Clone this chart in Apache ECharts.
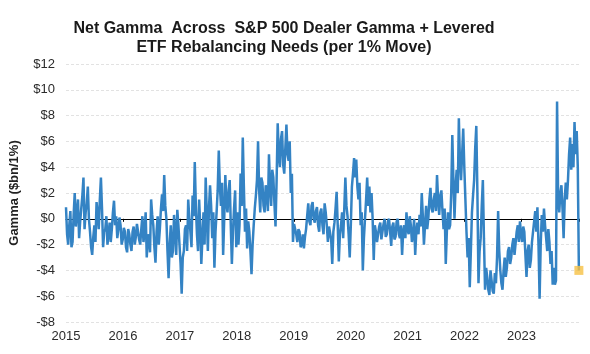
<!DOCTYPE html>
<html>
<head>
<meta charset="utf-8">
<title>Net Gamma Across S&P 500</title>
<script src="https://cdn.jsdelivr.net/npm/echarts@6/dist/echarts.min.js"></script>
<style>html,body{margin:0;padding:0;background:#fff;}</style>
</head>
<body>
<div id="main" style="width:590px;height:354px;"></div>
<script>
// x轴年份
var years = [2015, 2016, 2017, 2018, 2019, 2020, 2021, 2022, 2023];
// weekly readings starting Jan 2015
var startYear = 2015;
var stepYears = 7 / 365.25;
// Net gamma, $bn per 1% move
var gamma = [
    0.9, -1.2, -2.0, -0.5, 0.6, -2.2, -1.8, 0.3, 2.0, -0.6, 0.5, 1.5, -1.5, -0.2, 0.8, 1.8, 3.2, -0.8, 0.5, 1.2,
    2.5, 0.0, -1.0, -2.2, -2.8, -1.4, -0.5, -1.8, 1.3, 0.4, -0.8, 1.5, 3.2, 0.8, -2.2, -1.0, -0.8, 0.2, -2.0, -1.2,
    -0.3, -1.8, -0.8, 0.5, 1.4, -0.5, 0.2, -1.5, -0.8, 0.1, -0.5, -2.0, -1.6, -0.7, -1.0, -2.2, -2.6, -0.8, -1.2, -2.0,
    -2.5, -1.0, -0.6, -2.0, -1.4, -0.4, -0.3, -1.6, -2.0, -0.8, 0.2, -1.8, -1.0, 0.5, -3.0, -1.2, -1.5, -2.6, 1.5, 0.3,
    -0.5, -2.2, -3.4, -1.0, 0.2, -2.0, -0.8, 0.8, 1.9, 0.6, 3.4, 1.0, 0.0, -2.5, -4.6, -2.0, -0.5, -3.0, -2.5, 0.3,
    -1.0, -2.8, 0.7, -0.5, -2.0, -3.5, -5.8, -3.0, -2.5, -0.8, -0.5, -2.5, 1.5, 0.0, -1.0, -2.2, 1.8, 0.2, 4.4, 1.0,
    -1.2, -2.5, 1.5, -0.5, -3.5, -1.5, 0.5, -2.0, 3.2, 0.5, -2.5, 0.8, 2.6, 1.0, -1.5, 0.5, -3.8, -1.0, 0.5, 2.2,
    5.3, 2.5, 1.0, 2.8, -2.8, 0.0, 3.4, 1.2, 0.5, 2.2, 3.0, -0.5, -3.5, -1.0, 0.8, 2.2, -2.2, 0.5, -2.0, -0.5,
    3.5, 1.0, 6.3, 2.5, -1.0, 0.8, -2.3, -0.2, -1.0, -2.5, -4.3, -2.0, -0.5, 0.8, 1.8, 3.0, 6.0, 2.2, 0.5, 3.2,
    2.8, 1.0, 0.5, 2.6, 2.0, 0.6, 5.0, 2.5, 1.0, 3.8, 3.2, 1.2, -0.6, 3.0, 7.4, 5.0, 4.0, 6.2, 6.8, 4.2,
    3.5, 5.5, 7.3, 5.0, 4.5, 6.0, 2.0, 3.5, -1.8, -0.4, -0.5, -1.2, -1.8, -0.8, -1.0, -2.2, -2.0, -1.2, -2.3, -1.4,
    -0.8, 0.2, 1.2, -0.2, -0.5, 1.0, 1.3, 0.0, -0.3, 0.6, 0.9, -0.5, -1.0, 0.5, 0.8, -0.5, -1.2, 1.2, 0.5, -0.5,
    -1.8, -0.6, -0.5, -1.6, -3.5, -1.0, -0.3, 0.8, 2.1, -0.5, -3.3, -1.2, -0.5, 0.5, -1.5, 0.8, 3.2, 1.0, 0.2, -1.2,
    -3.0, -0.5, 2.5, 3.5, 4.7, 3.2, 4.6, 2.5, 1.5, 2.8, -0.5, 0.5, -4.0, -1.5, 0.0, 1.5, 3.2, 1.0, 2.5, 0.5,
    2.0, 0.0, -3.2, -0.5, -1.0, -1.8, -1.8, -0.6, -0.3, -1.6, -1.5, -0.4, 0.0, -1.4, -1.2, -0.2, 0.0, -1.0, -2.1, -0.6,
    -0.3, -1.6, -1.4, -0.2, 0.0, -1.2, -1.5, -0.5, -2.8, -1.0, -0.5, -1.5, 0.5, -0.8, -1.2, 0.2, -0.5, -1.8, -1.2, 0.0,
    -2.8, -1.0, -0.3, -1.2, 0.3, -0.6, 2.0, 0.2, -2.0, -0.5, 1.0, -0.8, 0.0, 1.5, 2.4, 0.8, 0.5, 1.5, 2.0, 0.6,
    3.4, 1.5, 0.3, 1.8, 2.2, 0.6, -0.8, 0.8, -3.5, -1.0, 0.5, -0.8, -0.5, 2.0, 6.5, 3.0, 0.0, 2.5, 3.8, 2.0,
    7.8, 4.5, 3.0, 5.0, 7.0, 4.0, 1.5, -1.0, -3.0, -1.5, -5.3, -2.5, 0.5, 1.8, 3.0, 5.5, 7.2, 2.0, -5.0, -2.5,
    -1.5, 1.0, 3.0, -1.5, -5.5, -3.8, -4.5, -5.5, -5.9, -4.0, -4.8, -5.6, -5.8, -4.2, -5.0, -3.0, 0.6, -2.5, -4.0, -5.0,
    -5.5, -4.0, -3.0, -4.5, -3.8, -2.5, -2.2, -3.5, -3.0, -2.0, -1.5, -2.8, -1.9, -1.0, -0.5, -1.8, -0.2, -1.2, -1.8, -0.6,
    -1.0, -2.8, -4.5, -2.5, -2.0, -3.8, -3.2, -1.8, -1.0, -0.2, 0.6, -1.0, 0.9, -2.0, -6.2, -2.0, 0.3, -1.0, 0.8, -0.5,
    -1.5, -2.5, -0.8, -1.8, -3.5, -2.5, -5.1, -3.8, -5.1, -4.8, 9.1, 1.5, 0.5, 2.0, 2.6, 0.8, -1.5, 1.5, 2.8, 1.5,
    3.0, 5.0, 6.3, 3.8, 5.8, 4.0, 7.5, 5.0, 6.8, 4.0, -4.0
];
// y轴范围
var yMin = -8, yMax = 12, yStep = 2;

var lineData = [];
for (var i = 0; i < gamma.length; i++) {
    lineData.push([startYear + i * stepYears, gamma[i]]);
}
// 最新值 (黄色方块)
var latest = lineData[lineData.length - 1];
var xMax = latest[0] + 0.002;

var chart = echarts.init(document.getElementById('main'));

function money(v) {
    return v < 0 ? '-$' + (-v) : '$' + v;
}

var option = {
    backgroundColor: '#fff',
    animation: false,
    title: {
        text: 'Net Gamma  Across  S&P 500 Dealer Gamma + Levered\nETF Rebalancing Needs (per 1% Move)',
        left: 279,
        top: 14,
        textAlign: 'center',
        textStyle: {
            color: '#1a1a1a',
            fontSize: 16,
            fontWeight: 'bold',
            fontFamily: 'Liberation Sans, Arial, sans-serif',
            lineHeight: 19
        }
    },
    grid: {
        left: 61,
        right: 11,
        top: 64,
        bottom: 32
    },
    xAxis: [
        {
            type: 'value',
            min: startYear,
            max: xMax,
            interval: 1,
            axisLine: { show: false, onZero: false },
            axisTick: { show: false },
            splitLine: { show: false },
            axisLabel: {
                margin: 8,
                color: '#2b2b2b',
                fontSize: 13,
                fontFamily: 'Liberation Sans, Arial, sans-serif',
                formatter: function (v) {
                    return years.indexOf(Math.round(v)) >= 0 ? String(Math.round(v)) : '';
                }
            }
        },
        {
            // 零线
            type: 'value',
            min: startYear,
            max: xMax,
            interval: 1,
            position: 'bottom',
            axisLine: { show: true, onZero: true, lineStyle: { color: '#000', width: 1.2 } },
            axisTick: { show: true, length: 3, lineStyle: { color: '#000' } },
            axisLabel: { show: false },
            splitLine: { show: false }
        }
    ],
    yAxis: {
        type: 'value',
        min: yMin,
        max: yMax,
        interval: yStep,
        name: 'Gamma ($bn/1%)',
        nameLocation: 'middle',
        nameRotate: 90,
        nameGap: 45,
        nameTextStyle: {
            color: '#222',
            fontSize: 13,
            fontWeight: 'bold',
            fontFamily: 'Liberation Sans, Arial, sans-serif'
        },
        axisLine: { show: false },
        axisTick: { show: false },
        axisLabel: {
            margin: 11,
            color: '#2b2b2b',
            fontSize: 13,
            fontFamily: 'Liberation Sans, Arial, sans-serif',
            formatter: money
        },
        splitLine: {
            lineStyle: { color: '#e2e2e2', width: 1, type: [3, 2] }
        }
    },
    series: [
        {
            name: 'Net Gamma',
            type: 'line',
            xAxisIndex: 0,
            data: lineData,
            showSymbol: false,
            lineStyle: { color: '#3483c4', width: 2.5 },
            z: 3
        },
        {
            name: 'Latest',
            type: 'scatter',
            xAxisIndex: 0,
            data: [latest],
            symbol: 'rect',
            symbolSize: 9,
            itemStyle: { color: '#f6c143' },
            z: 4
        }
    ]
};
chart.setOption(option);
</script>
</body>
</html>
